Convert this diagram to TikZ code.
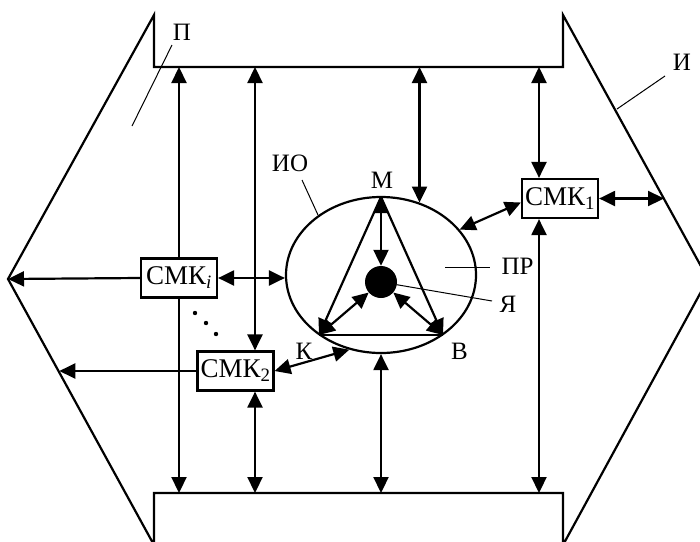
\documentclass[tikz,border=0pt]{standalone}
\usepackage{fontspec}
\setmainfont{Liberation Serif}
\usetikzlibrary{arrows.meta,shapes.geometric,calc}
\begin{document}
\begin{tikzpicture}[x=1pt,y=-1pt,
  main/.style={line width=2.2pt},
  thin/.style={line width=1pt},
  arr/.style={main,-{Triangle[length=16pt,width=15pt]}},
  darr/.style={main,{Triangle[length=16pt,width=15pt]}-{Triangle[length=16pt,width=15pt]}},
  smk/.style={draw,main,minimum width=76pt,minimum height=39pt,inner sep=0pt,font=\fontsize{27}{32}\selectfont},
  lbl/.style={inner sep=0pt,font=\fontsize{25}{30}\selectfont}]
\useasboundingbox (0,0) rectangle (700,541);
\clip (0,0) rectangle (700,541);
% outer frame
\coordinate (T) at (0,67);
\coordinate (Bt) at (0,493);
\coordinate (Lapex) at (8,279);
\coordinate (Rapex) at (708,279);
\draw[main,line join=miter] (154,67) -- (154,15) -- (Lapex) -- (154,545) -- (154,493) -- (563,493)
  -- (563,545) -- (Rapex) -- (563,15) -- (563,67) -- cycle;
% inner object
\node[draw,main,ellipse,minimum width=190pt,minimum height=156pt,inner sep=0pt] (ell) at (381,275) {};
\node[circle,fill,minimum size=32pt,inner sep=0pt] (core) at (381,282) {};
\coordinate (M) at (381,197);
\coordinate (K) at (319,335);
\coordinate (B) at (443,335);
\draw[main] (K) -- (B);
\draw[arr] (M) -- (K);
\draw[arr] (M) -- (B);
\draw[darr] (M) -- (core);
\draw[darr] (core) -- (K);
\draw[darr] (core) -- (B);
% boxes
\node[smk] (cmki) at (179,278) {СМК\textsubscript{\textit{i}}};
\node[smk] (cmk2) at (235.5,371) {СМК\textsubscript{2}};
\node[smk] (cmk1) at (560,198.5) {СМК\textsubscript{1}};
\coordinate (c2) at (255,0);
\coordinate (c5) at (539,0);
\coordinate (eA) at (ell.62);
\coordinate (l2) at (59.3,371);
\coordinate (r1) at (664,198.5);
% connectors
\draw[arr] (cmki.north) -- (cmki.north |- T);
\draw[arr] (cmki.south) -- (cmki.south |- Bt);
\draw[arr] (cmki.west) -- (Lapex);
\draw[darr] (cmki.east) -- (cmki.east -| ell.west);
\draw[darr] (c2 |- T) -- (c2 |- cmk2.north);
\draw[darr] (c2 |- cmk2.south) -- (c2 |- Bt);
\draw[arr] (cmk2.west) -- (l2);
\draw[darr] (cmk2.east) -- (ell.247);
\draw[darr] (eA |- T) -- (eA);
\draw[darr] (ell.south) -- (ell.south |- Bt);
\draw[darr] (c5 |- T) -- (c5 |- cmk1.north);
\draw[darr] (c5 |- cmk1.south) -- (c5 |- Bt);
\draw[darr] (cmk1.east) -- (r1);
\draw[darr] ([yshift=-4pt]cmk1.west) -- (ell.30);
% dots
\fill (195,313) circle (2.2pt) (206,323) circle (2.2pt) (216,334) circle (2.2pt);
% labels
\node[lbl] (lP) at (182,32) {П};
\node[lbl] (lI) at (682,62) {И};
\node[lbl] (lIO) at (290,163) {ИО};
\node[lbl] (lM) at (382,180) {М};
\node[lbl] (lPR) at (517.5,266) {ПР};
\node[lbl] (lYa) at (508,304) {Я};
\node[lbl] (lV) at (459.5,351) {В};
\node[lbl] (lK) at (304,351) {К};
% leader lines
\draw[thin] (172,45) -- (132,126);
\draw[thin] (665,76) -- (617,109);
\draw[thin] (302,180) -- (318,215);
\draw[thin] (445,267) -- (490,267);
\draw[thin] (core) -- (492,301);
\end{tikzpicture}
\end{document}
